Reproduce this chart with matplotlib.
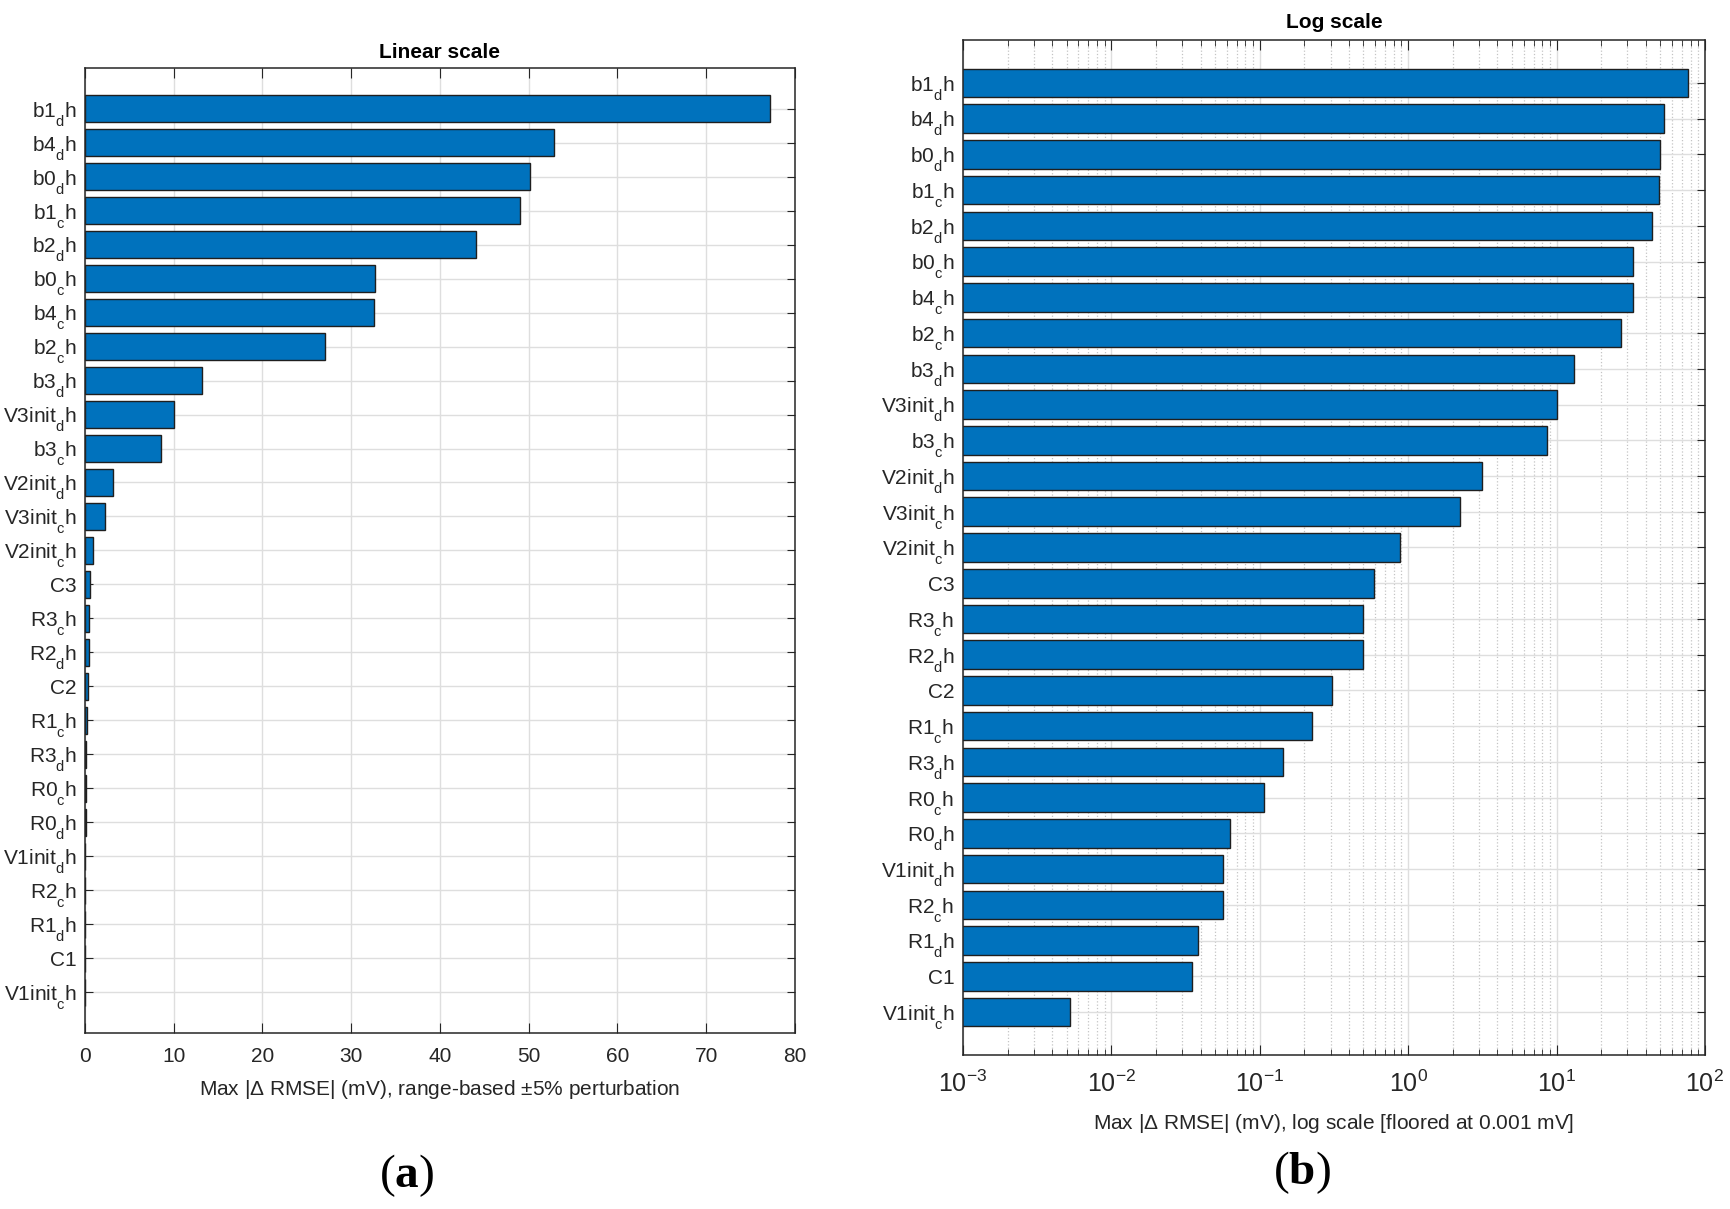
import numpy as np
import matplotlib
matplotlib.use("Agg")
import matplotlib.pyplot as plt
from matplotlib.ticker import LogLocator, NullFormatter

plt.rcParams['font.family'] = ['Liberation Sans', 'DejaVu Sans']
plt.rcParams['mathtext.fontset'] = 'custom'
plt.rcParams['mathtext.rm'] = 'Liberation Sans'
plt.rcParams['mathtext.it'] = 'Liberation Sans'
plt.rcParams['mathtext.bf'] = 'Liberation Serif:bold'

# MATLAB drops subscripts lower than mathtext does by default
try:
    from matplotlib import _mathtext
    _mathtext.FontConstantsBase.sub1 = 0.85
except Exception:
    pass

# -----------------------
# Data (sorted, largest first)
# -----------------------
params = ['b1_d', 'b4_d', 'b0_d', 'b1_c', 'b2_d', 'b0_c', 'b4_c', 'b2_c', 'b3_d',
          'V3init_d', 'b3_c', 'V2init_d', 'V3init_c', 'V2init_c', 'C3', 'R3_c',
          'R2_d', 'C2', 'R1_c', 'R3_d', 'R0_c', 'R0_d', 'V1init_d', 'R2_c',
          'R1_d', 'C1', 'V1init_c']
max_drmse = [77.2, 52.8, 50.2, 49.0, 44.1, 32.7, 32.6, 27.0, 13.2,
             10.05, 8.6, 3.14, 2.23, 0.885, 0.586, 0.493,
             0.493, 0.306, 0.224, 0.144, 0.107, 0.0632, 0.057, 0.057,
             0.0385, 0.0347, 0.00527]
floor_mv = 1e-3


def tick_label(name):
    # "b1_d" -> b1 with subscript d, followed by h
    if '_' in name:
        base, sub = name.split('_')
        return base + r'$_{\mathrm{' + sub + '}}$h'
    return name


labels = [tick_label(p) for p in params]
ypos = np.arange(len(params))

bar_color = '#0072BD'
edge_color = '#1f1f1f'
axis_color = '#262626'
fs = 15

fig = plt.figure(figsize=(17.3, 12.09), dpi=100)
ax_lin = fig.add_axes([0.0491, 0.1456, 0.4104, 0.7982])
ax_log = fig.add_axes([0.5566, 0.1274, 0.4289, 0.8395])


def style_axes(ax):
    ax.set_axisbelow(True)
    for sp in ax.spines.values():
        sp.set_color(axis_color)
        sp.set_linewidth(1.1)
    ax.tick_params(axis='both', which='both', direction='in', colors=axis_color,
                   labelsize=fs, top=True, right=True)
    ax.tick_params(axis='x', which='major', length=7, pad=10)
    ax.tick_params(axis='y', which='major', length=6, pad=6)
    ax.set_yticks(ypos)
    ax.set_yticklabels(labels)
    ax.set_ylim(len(params) - 1 + 1.2, -1.2)
    ax.grid(True, which='major', color='#dedede', linewidth=1.0)


# Linear panel
ax_lin.barh(ypos, max_drmse, height=0.8, color=bar_color, edgecolor=edge_color, linewidth=1.0)
style_axes(ax_lin)
ax_lin.set_xlim(0, 80)
ax_lin.set_xticks(np.arange(0, 81, 10))
ax_lin.set_title('Linear scale', fontsize=fs, fontweight='bold', color='black', pad=7.5)
ax_lin.set_xlabel(r'Max |$\Delta$ RMSE| (mV), range-based $\pm$5% perturbation',
                  fontsize=fs, color=axis_color, labelpad=9)

# Log panel
log_vals = np.maximum(max_drmse, floor_mv)
ax_log.barh(ypos, log_vals, height=0.8, color=bar_color, edgecolor=edge_color, linewidth=1.0)
ax_log.set_xscale('log')
style_axes(ax_log)
ax_log.set_xlim(1e-3, 1e2)
ax_log.xaxis.set_major_locator(LogLocator(base=10, numticks=10))
ax_log.xaxis.set_minor_locator(LogLocator(base=10, subs=np.arange(2, 10), numticks=20))
ax_log.xaxis.set_minor_formatter(NullFormatter())
ax_log.tick_params(axis='x', which='major', labelsize=18, pad=11)
ax_log.tick_params(axis='x', which='minor', length=4)
ax_log.xaxis.grid(True, which='minor', linestyle=':', color='#c4c4c4', linewidth=0.9)
ax_log.set_title('Log scale', fontsize=fs, fontweight='bold', color='black', pad=9)
ax_log.set_xlabel(r'Max |$\Delta$ RMSE| (mV), log scale [floored at 0.001 mV]',
                  fontsize=fs, color=axis_color, labelpad=11)

# Panel labels
fig.text(0.235, 0.028, r'($\mathbf{a}$)', fontsize=34, family='Liberation Serif',
         ha='center', va='center')
fig.text(0.7527, 0.030, r'($\mathbf{b}$)', fontsize=34, family='Liberation Serif',
         ha='center', va='center')

fig.savefig('out.png', dpi=100)
